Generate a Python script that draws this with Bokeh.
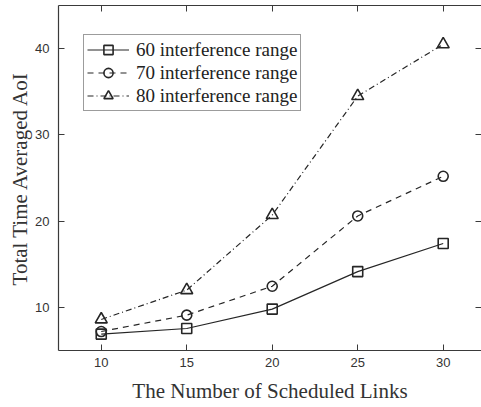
from bokeh.plotting import figure
from bokeh.models import Legend, LegendItem, LinearAxis, FixedTicker, Range1d, CustomJSTickFormatter
from bokeh.embed import file_html
from bokeh.resources import INLINE

links = [10, 15, 20, 25, 30]
aoi_60 = [6.9, 7.55, 9.8, 14.15, 17.4]
aoi_70 = [7.2, 9.1, 12.45, 20.6, 25.2]
aoi_80 = [8.6, 12.0, 20.7, 34.5, 40.5]
labels = ["60 interference range", "70 interference range", "80 interference range"]
x_ticks = [10, 15, 20, 25, 30]
y_ticks = [10, 20, 30, 40]

INK = "#262626"
AX = "#3a3a3a"
SERIF = "Liberation Serif"
SANS = "Liberation Sans"

p = figure(width=481, height=407, output_backend="svg", toolbar_location=None,
           x_range=Range1d(7.5, 32.24), y_range=Range1d(5, 45),
           min_border_left=58, min_border_right=0, min_border_top=5, min_border_bottom=57)
p.outline_line_color = None
p.xgrid.visible = False
p.ygrid.visible = False
p.background_fill_color = "white"
p.border_fill_color = "white"

def style_axis(ax, ticks, show_labels=True, line=True):
    ax.ticker = FixedTicker(ticks=ticks)
    ax.minor_tick_line_color = None
    ax.major_tick_in = 6
    ax.major_tick_out = 0
    ax.major_tick_line_color = AX
    ax.major_tick_line_width = 1
    ax.axis_line_color = AX if line else None
    ax.axis_line_width = 1.2
    ax.major_label_text_font = SANS
    ax.major_label_text_font_size = "13px"
    ax.major_label_text_color = "#333333"
    if not show_labels:
        ax.major_label_text_font_size = "0px"
        ax.major_label_standoff = 0
        ax.formatter = CustomJSTickFormatter(code="return ''")

style_axis(p.xaxis[0], x_ticks)
style_axis(p.yaxis[0], y_ticks)
p.xaxis.major_label_standoff = 7
p.yaxis.major_label_standoff = 9
p.xaxis.axis_label = "The Number of Scheduled Links"
p.yaxis.axis_label = "Total Time Averaged AoI"
for ax in (p.xaxis[0], p.yaxis[0]):
    ax.axis_label_text_font = SERIF
    ax.axis_label_text_font_size = "21px"
    ax.axis_label_text_font_style = "normal"
    ax.axis_label_text_color = "#333333"
p.xaxis.axis_label_standoff = 9
p.yaxis.axis_label_standoff = 0

top = LinearAxis()
style_axis(top, x_ticks, show_labels=False)
p.add_layout(top, "above")
right = LinearAxis()
style_axis(right, y_ticks, show_labels=False, line=False)
p.add_layout(right, "right")

r60 = p.line(links, aoi_60, line_color=INK, line_width=1.2)
m60 = p.scatter(links, aoi_60, marker="square", size=10, line_color=INK, line_width=1.6, fill_color=None)
r70 = p.line(links, aoi_70, line_color=INK, line_width=1.2, line_dash="6 5")
m70 = p.scatter(links, aoi_70, marker="circle", size=10, line_color=INK, line_width=1.6, fill_color=None)
r80 = p.line(links, aoi_80, line_color=INK, line_width=1.2, line_dash="6 3 1 3")
m80 = p.scatter(links, aoi_80, marker="triangle", size=12, line_color=INK, line_width=1.6, fill_color=None)

legend = Legend(
    items=[
        LegendItem(label=labels[0], renderers=[r60, m60]),
        LegendItem(label=labels[1], renderers=[r70, m70]),
        LegendItem(label=labels[2], renderers=[r80, m80]),
    ],
    location=(25, 239),
    label_text_font=SERIF,
    label_text_font_size="19px",
    label_text_color="#222222",
    glyph_width=42, glyph_height=23, label_height=23, label_standoff=7,
    padding=3, spacing=0, margin=0,
    border_line_color=AX, border_line_width=1,
    background_fill_color="white", background_fill_alpha=1,
)
p.add_layout(legend)

open("out.html", "w").write(file_html(p, INLINE))
